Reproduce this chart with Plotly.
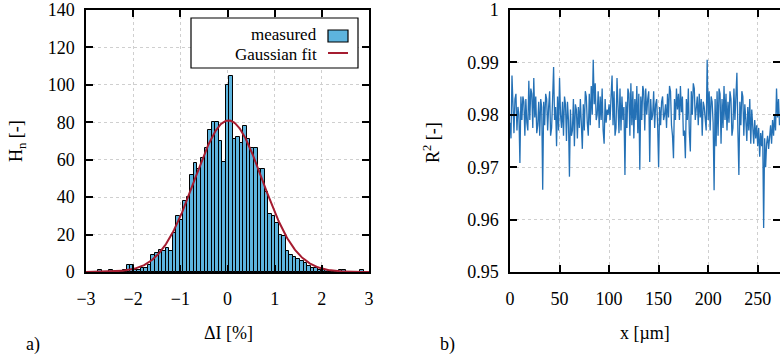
import numpy as np
import plotly.graph_objects as go

# ---------------- data: histogram (panel a) ----------------
bin_width = 0.075
bin_index = list(range(-39, 40))
counts = [0, 0, 0, 1, 0, 0, 1, 0, 0, 0,      # k=-39..-30
          1, 4, 4, 1, 1, 2, 2, 4, 9, 10,     # k=-29..-20
          12, 11, 13, 11, 21, 30, 28, 38, 40, 52,  # k=-19..-10
          58, 55, 61, 66, 76, 80, 80, 70, 59,      # k=-9..-1
          100, 105, 71, 72, 69, 78, 71, 66, 66, 55,  # k=0..9
          55, 43, 31, 30, 26, 20, 19, 11, 9, 8,      # k=10..19
          7, 6, 5, 3, 2, 2, 1, 1, 1, 0,              # k=20..29
          0, 0, 1, 1, 0, 0, 0, 0, 1, 0]              # k=30..39
bin_centers = [k * bin_width for k in bin_index]

# Gaussian fit parameters
fit_amp = 81.0
fit_mu = 0.02
fit_sigma = 0.72

# ---------------- data: R^2 along x (panel b), one value per um ----------------
r2 = [
 0.9785, 0.9755, 0.9875, 0.9790, 0.9765, 0.9830, 0.9840, 0.9770, 0.9815, 0.9800,
 0.9708, 0.9835, 0.9790, 0.9835, 0.9825, 0.9760, 0.9830, 0.9785, 0.9770, 0.9865,
 0.9790, 0.9850, 0.9840, 0.9775, 0.9870, 0.9795, 0.9835, 0.9765, 0.9780, 0.9825,
 0.9760, 0.9830, 0.9815, 0.9657, 0.9825, 0.9780, 0.9840, 0.9830, 0.9770, 0.9815,
 0.9845, 0.9760, 0.9775, 0.9830, 0.9891, 0.9790, 0.9815, 0.9740, 0.9835, 0.9770,
 0.9870, 0.9800, 0.9775, 0.9825, 0.9760, 0.9835, 0.9820, 0.9750, 0.9825, 0.9790,
 0.9682, 0.9810, 0.9760, 0.9770, 0.9830, 0.9740, 0.9820, 0.9810, 0.9755, 0.9815,
 0.9775, 0.9830, 0.9790, 0.9735, 0.9820, 0.9770, 0.9845, 0.9835, 0.9785, 0.9760,
 0.9840, 0.9780, 0.9855, 0.9800, 0.9905, 0.9820, 0.9860, 0.9790, 0.9800, 0.9845,
 0.9775, 0.9835, 0.9790, 0.9850, 0.9770, 0.9745, 0.9830, 0.9785, 0.9810, 0.9800,
 0.9820, 0.9790, 0.9835, 0.9875, 0.9780, 0.9845, 0.9760, 0.9775, 0.9870, 0.9830,
 0.9765, 0.9850, 0.9770, 0.9835, 0.9790, 0.9815, 0.9685, 0.9825, 0.9775, 0.9850,
 0.9840, 0.9760, 0.9860, 0.9780, 0.9845, 0.9755, 0.9830, 0.9790, 0.9855, 0.9765,
 0.9840, 0.9695, 0.9835, 0.9790, 0.9855, 0.9845, 0.9770, 0.9850, 0.9800, 0.9830,
 0.9845, 0.9710, 0.9830, 0.9790, 0.9800, 0.9845, 0.9775, 0.9820, 0.9830, 0.9780,
 0.9700, 0.9815, 0.9780, 0.9825, 0.9835, 0.9790, 0.9800, 0.9820, 0.9775, 0.9840,
 0.9795, 0.9855, 0.9845, 0.9780, 0.9760, 0.9717, 0.9830, 0.9790, 0.9850, 0.9810,
 0.9840, 0.9790, 0.9855, 0.9805, 0.9835, 0.9760, 0.9770, 0.9717, 0.9830, 0.9790,
 0.9850, 0.9765, 0.9730, 0.9845, 0.9800, 0.9860, 0.9850, 0.9790, 0.9810, 0.9835,
 0.9780, 0.9840, 0.9795, 0.9830, 0.9760, 0.9825, 0.9815, 0.9785, 0.9770, 0.9905,
 0.9790, 0.9845, 0.9770, 0.9835, 0.9825, 0.9785, 0.9656, 0.9830, 0.9740, 0.9845,
 0.9760, 0.9850, 0.9840, 0.9745, 0.9830, 0.9775, 0.9855, 0.9790, 0.9840, 0.9770,
 0.9825, 0.9785, 0.9845, 0.9830, 0.9760, 0.9775, 0.9850, 0.9790, 0.9835, 0.9880,
 0.9770, 0.9685, 0.9825, 0.9780, 0.9845, 0.9835, 0.9760, 0.9820, 0.9790, 0.9750,
 0.9815, 0.9770, 0.9830, 0.9745, 0.9810, 0.9760, 0.9745, 0.9790, 0.9755, 0.9780,
 0.9740, 0.9775, 0.9720, 0.9765, 0.9740, 0.9770, 0.9584, 0.9755, 0.9700, 0.9745,
 0.9760, 0.9735, 0.9770, 0.9780, 0.9745, 0.9790, 0.9760, 0.9800, 0.9770, 0.9850,
 0.9795, 0.9830, 0.9780,
]
x_step_um = 1.0
x_pos = [i * x_step_um for i in range(len(r2))]

# ---------------- figure ----------------
W, H = 780, 360
FONT = "Liberation Serif, Times New Roman, serif"
BAR_COLOR = "#5db4de"
FIT_COLOR = "#a51c30"
LINE_COLOR = "#2471b6"

xfit = np.linspace(-3, 3, 400)
yfit = fit_amp * np.exp(-((xfit - fit_mu) ** 2) / (2 * fit_sigma ** 2))

fig = go.Figure()
fig.add_trace(go.Bar(x=bin_centers, y=counts, width=bin_width,
                     marker=dict(color=BAR_COLOR, line=dict(color="black", width=1)),
                     xaxis="x", yaxis="y", showlegend=False))
fig.add_trace(go.Scatter(x=xfit, y=yfit, mode="lines",
                         line=dict(color=FIT_COLOR, width=2),
                         xaxis="x", yaxis="y", showlegend=False))
fig.add_trace(go.Scatter(x=x_pos, y=r2, mode="lines",
                         line=dict(color=LINE_COLOR, width=1.3),
                         xaxis="x2", yaxis="y2", showlegend=False))

def px(x):
    return x / W

def py(y):
    return 1 - y / H

axis_style = dict(showline=True, linecolor="black", linewidth=1.5, mirror="ticks",
                  ticks="inside", ticklen=7, tickwidth=1.5, tickcolor="black",
                  showgrid=True, gridcolor="#cfcfcf", griddash="dot", gridwidth=1,
                  zeroline=False, automargin=False,
                  tickfont=dict(family=FONT, size=18, color="black"))

fig.update_layout(
    width=W, height=H,
    margin=dict(l=0, r=0, t=0, b=0, pad=0),
    font=dict(family=FONT, size=18, color="black"),
    paper_bgcolor="white", plot_bgcolor="white",
    bargap=0,
    xaxis=dict(domain=[px(86), px(369)], range=[-3, 3], tickvals=[-3, -2, -1, 0, 1, 2, 3],
               anchor="y", ticklabelstandoff=10, **axis_style),
    yaxis=dict(domain=[py(272), py(10)], range=[0, 140], tickvals=list(range(0, 141, 20)),
               anchor="x", ticklabelstandoff=6, **axis_style),
    xaxis2=dict(domain=[px(510), 1.0], range=[0, 272.5], tickvals=[0, 50, 100, 150, 200, 250],
                anchor="y2", ticklabelstandoff=10, **axis_style),
    yaxis2=dict(domain=[py(272), py(10)], range=[0.95, 1.0],
                tickvals=[0.95, 0.96, 0.97, 0.98, 0.99, 1.0],
                ticktext=["0.95", "0.96", "0.97", "0.98", "0.99", "1"],
                anchor="x2", ticklabelstandoff=6, **axis_style),
)

tf = dict(family=FONT, size=18, color="black")
annots = [
    dict(text="H<sub>n</sub> [-]", x=px(18), y=py(141), textangle=-90),
    dict(text="R<sup>2</sup> [-]", x=px(432), y=py(143), textangle=-90),
    dict(text="ΔI [%]", x=px(228), y=py(333)),
    dict(text="x [µm]", x=px(645), y=py(333)),
    dict(text="a)", x=px(33), y=py(344)),
    dict(text="b)", x=px(448), y=py(344)),
]
for a in annots:
    fig.add_annotation(xref="paper", yref="paper", showarrow=False, font=tf,
                       xanchor="center", yanchor="middle", **a)

# custom legend (text left, sample right, as in the original)
lf = dict(family=FONT, size=17, color="black")
fig.add_shape(type="rect", xref="paper", yref="paper",
              x0=px(191), x1=px(358), y0=py(68), y1=py(18),
              line=dict(color="black", width=1.2), fillcolor="white", layer="above")
fig.add_shape(type="rect", xref="paper", yref="paper",
              x0=px(328), x1=px(348), y0=py(42), y1=py(30),
              line=dict(color="black", width=1.2), fillcolor=BAR_COLOR, layer="above")
fig.add_shape(type="line", xref="paper", yref="paper",
              x0=px(328), x1=px(348), y0=py(53), y1=py(53),
              line=dict(color=FIT_COLOR, width=2), layer="above")
fig.add_annotation(xref="paper", yref="paper", showarrow=False, font=lf,
                   text="measured", x=px(319), y=py(35), xanchor="right", yanchor="middle")
fig.add_annotation(xref="paper", yref="paper", showarrow=False, font=lf,
                   text="Gaussian fit", x=px(319), y=py(54), xanchor="right", yanchor="middle")

fig.write_html("out.html")
